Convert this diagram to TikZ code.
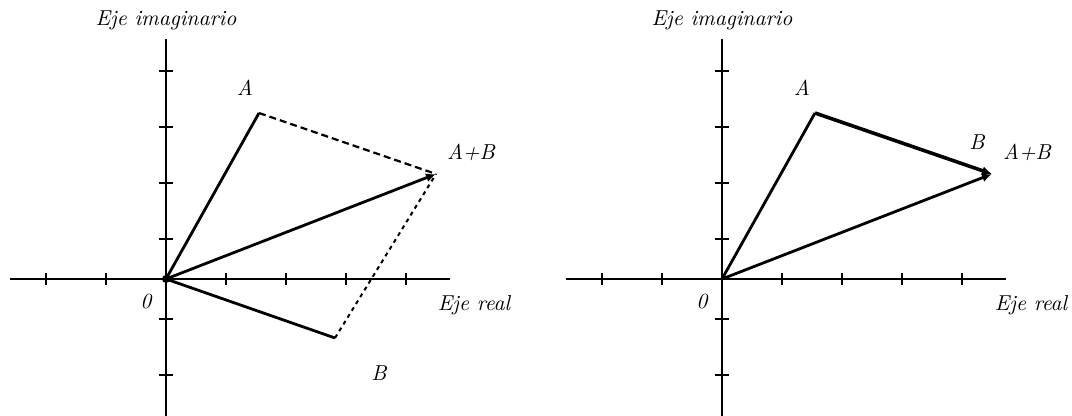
\documentclass[tikz,border=0pt]{standalone}
\usepackage{tikz}
\usetikzlibrary{arrows.meta, positioning}

\begin{document}
\begin{tikzpicture}[
  x=0.5pt, y=0.5pt,
  axis/.style={line width=0.9pt},
  tickmark/.style={line width=0.8pt},
  vec/.style={line width=1.4pt},
  sumvec/.style={line width=1.4pt, -{Latex[length=5pt,width=4.5pt]}},
  guide/.style={line width=1.1pt, dash pattern=on 3.5pt off 2pt},
  guidedot/.style={line width=1pt, dash pattern=on 2pt off 2pt},
  lbl/.style={font=\fontsize{10.8}{13}\selectfont\itshape}
]
\useasboundingbox (0,0) rectangle (1072,416);

% Left panel: parallelogram rule
\begin{scope}[shift={(166,137)}]
\coordinate (O1) at (0,0);
\coordinate (xl1) at (-156,0);
\coordinate (xr1) at (284,0);
\coordinate (yt1) at (0,240);
\coordinate (yb1) at (0,-137);
\coordinate (A1) at (93,166);
\coordinate (B1) at (169,-59);
\coordinate (S1) at (270,105);

\draw[axis] (xl1) -- (xr1);
\draw[axis] (yt1) -- (yb1);
\foreach \x in {-120,-60,60,120,180,240}
  \draw[tickmark] (\x,-6) -- (\x,6);
\foreach \y in {-96,-40,40,96,152,208}
  \draw[tickmark] (-7,\y) -- (7,\y);

\node[lbl] (ima1) at (0,259) {Eje imaginario};
\node[lbl] (real1) at (308,-26) {Eje real};
\node[lbl] (zero1) at (-20,-23) {0};
\node[lbl] (la1) at (79,191) {A};
\node[lbl] (lb1) at (213,-94) {B};
\node[lbl] (ls1) at (305,127) {A+B};

\draw[guide] (A1) -- (S1);
\draw[guidedot] (B1) -- (S1);
\draw[vec] (O1) -- (A1);
\draw[vec] (O1) -- (B1);
\draw[sumvec] (O1) -- (S1);
\fill (O1) circle (2pt);
\end{scope}

% Right panel: triangle rule
\begin{scope}[shift={(722,137)}]
\coordinate (O2) at (0,0);
\coordinate (xl2) at (-156,0);
\coordinate (xr2) at (284,0);
\coordinate (yt2) at (0,240);
\coordinate (yb2) at (0,-137);
\coordinate (A2) at (93,166);
\coordinate (S2) at (270,105);

\draw[axis] (xl2) -- (xr2);
\draw[axis] (yt2) -- (yb2);
\foreach \x in {-120,-60,60,120,180,240}
  \draw[tickmark] (\x,-6) -- (\x,6);
\foreach \y in {-96,-40,40,96,152,208}
  \draw[tickmark] (-7,\y) -- (7,\y);

\node[lbl] (ima2) at (0,259) {Eje imaginario};
\node[lbl] (real2) at (309,-26) {Eje real};
\node[lbl] (zero2) at (-20,-23) {0};
\node[lbl] (la2) at (80,191) {A};
\node[lbl] (lb2) at (255,137) {B};
\node[lbl] (ls2) at (305,127) {A+B};

\draw[vec] (O2) -- (A2);
\draw[sumvec, line width=1.8pt] (A2) -- (S2);
\draw[sumvec] (O2) -- (S2);
\end{scope}

\end{tikzpicture}
\end{document}
